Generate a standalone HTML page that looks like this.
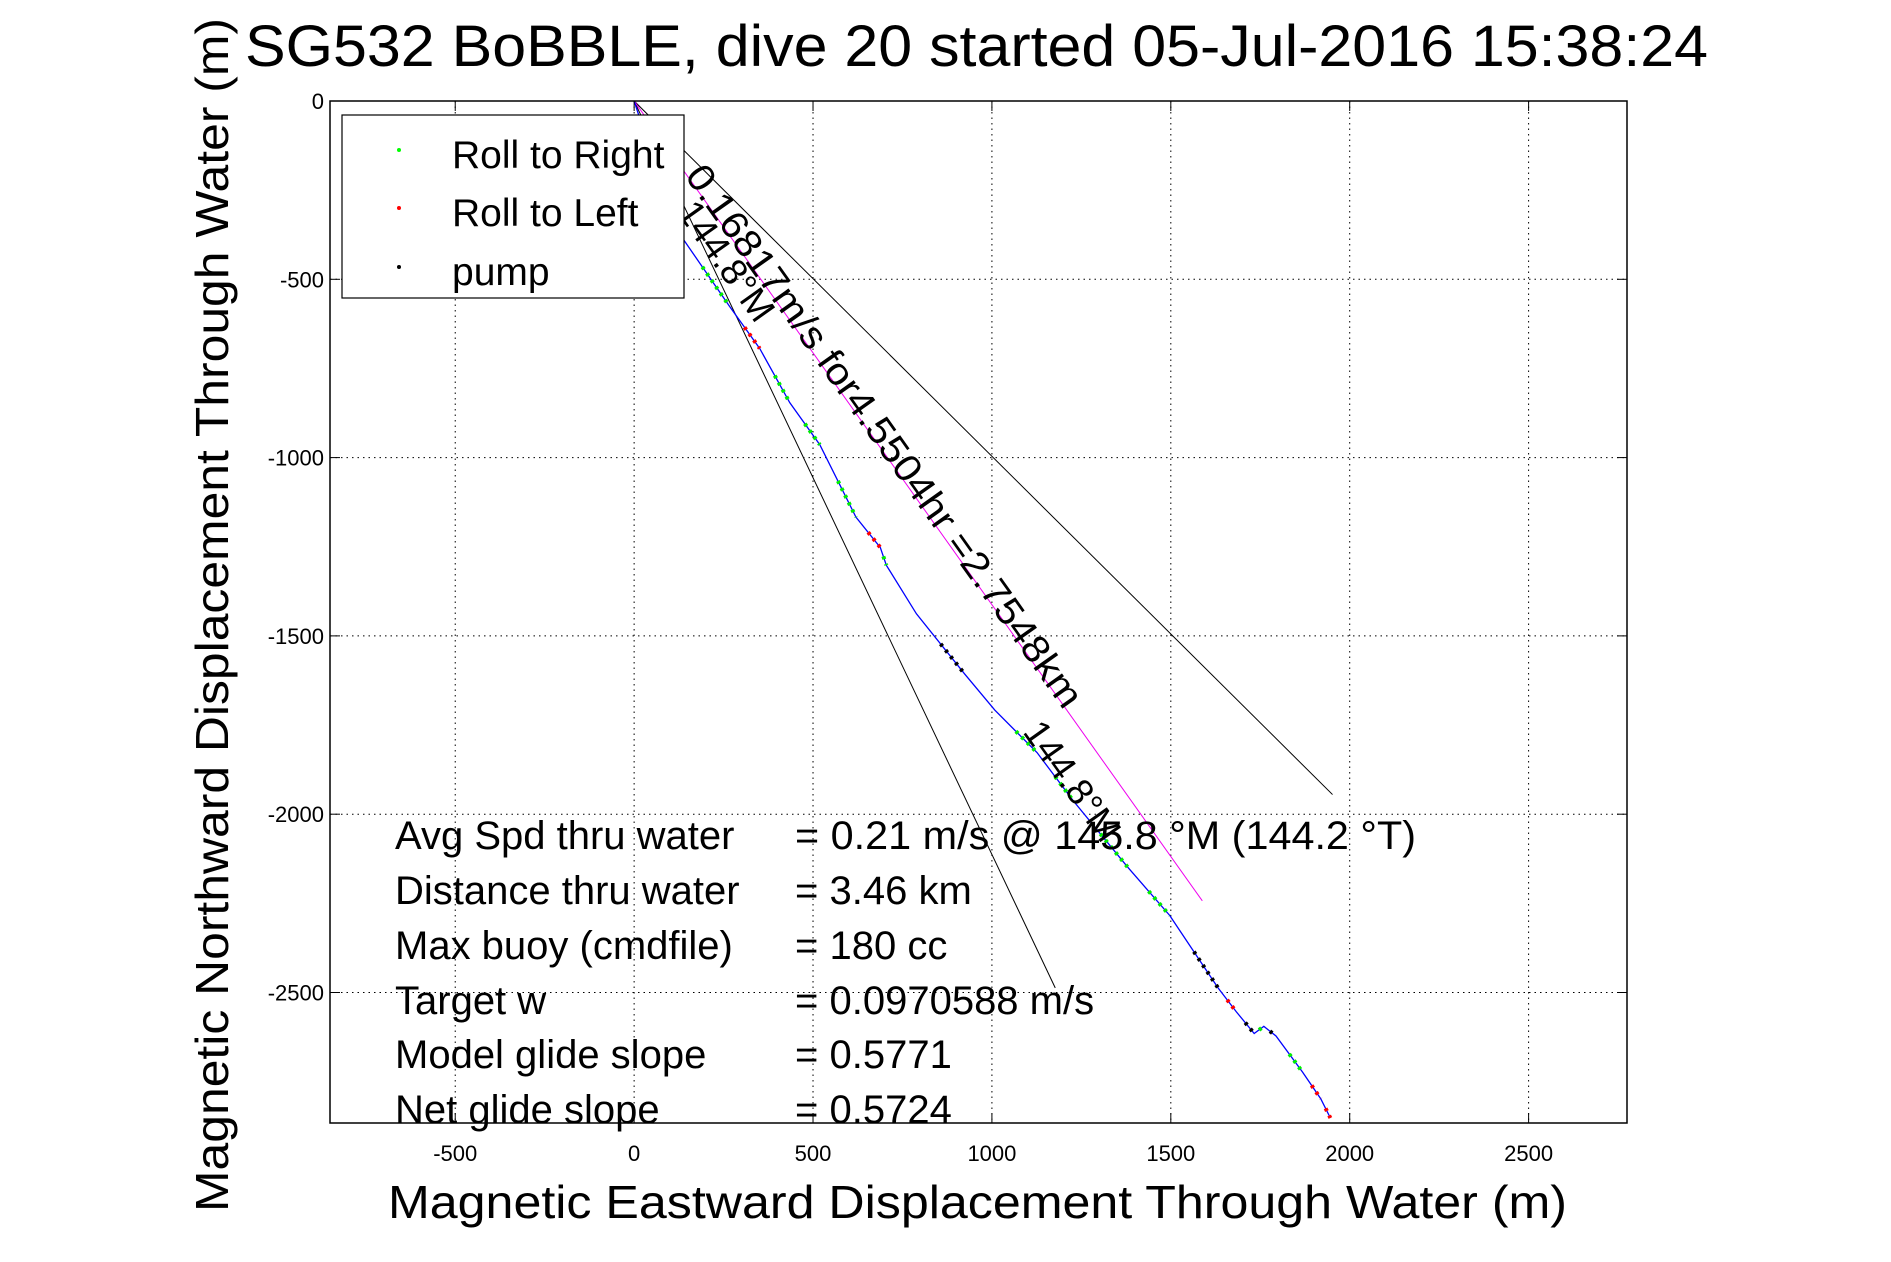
<!DOCTYPE html>
<html><head><meta charset="utf-8"><style>
body{margin:0;background:#fff}
svg{display:block;font-family:"Liberation Sans",sans-serif}
</style></head><body>
<svg id="c" width="1891" height="1262" viewBox="0 0 1891 1262">
<rect width="1891" height="1262" fill="#fff"/>
<g id="grid"></g>
<g id="marks"></g>
<rect x="330" y="101" width="1297" height="1022" fill="none" stroke="#000" stroke-width="1.5"/>
<g id="ticks" font-size="22"></g>
<text x="245" y="66" font-size="58" textLength="1463" lengthAdjust="spacingAndGlyphs">SG532 BoBBLE, dive 20 started 05-Jul-2016 15:38:24</text>
<text transform="translate(228,615) rotate(-90)" font-size="46" text-anchor="middle" textLength="1194" lengthAdjust="spacingAndGlyphs">Magnetic Northward Displacement Through Water (m)</text>
<text x="388" y="1218" font-size="46" textLength="1179" lengthAdjust="spacingAndGlyphs">Magnetic Eastward Displacement Through Water (m)</text>
<g>
<rect x="342" y="115" width="342" height="183" fill="#fff" stroke="#000" stroke-width="1.2"/>
<circle cx="399" cy="150" r="2" fill="#0f0"/><text x="452" y="168" font-size="39">Roll to Right</text>
<circle cx="399" cy="208" r="2" fill="#f00"/><text x="452" y="226" font-size="39">Roll to Left</text>
<circle cx="399" cy="267" r="2" fill="#000"/><text x="452" y="285" font-size="39">pump</text>
</g>
<g font-size="40" xml:space="preserve">
<text x="395" y="849">Avg Spd thru water</text><text x="795" y="849" textLength="621" lengthAdjust="spacingAndGlyphs">=  0.21 m/s @ 145.8 °M (144.2 °T)</text>
<text x="395" y="904">Distance thru water</text><text x="795" y="904">=  3.46 km</text>
<text x="395" y="959">Max buoy (cmdfile)</text><text x="795" y="959">= 180 cc</text>
<text x="395" y="1014">Target w</text><text x="795" y="1014">= 0.0970588 m/s</text>
<text x="395" y="1068">Model glide slope</text><text x="795" y="1068">= 0.5771</text>
<text x="395" y="1123">Net glide slope</text><text x="795" y="1123">= 0.5724</text>
</g>
</svg>
<script>
const xTicks=[-500,0,500,1000,1500,2000,2500];
const yTicks=[0,-500,-1000,-1500,-2000,-2500];
const trackX=[0,115,266,351,435,519,620,688,705,789,924,1008,1126,1227,1379,1497,1632,1683,1733,1760,1794,1868,1919,1946];
const trackY=[0,-355,-575,-694,-846,-964,-1167,-1252,-1302,-1438,-1607,-1708,-1827,-1962,-2148,-2284,-2487,-2554,-2615,-2595,-2622,-2723,-2798,-2852];
const markIdx=[2,3,4,5,6,7,8,10,12,13,14,15,16,17,18,19,20,21,22,23];
const markCls=["g","r","g","g","g","r","g","k","g","g","g","g","k","r","k","g","k","g","r","r"];
const lineEndX=[1952,1177];
const lineEndY=[-1945,-2487];
const magEnd=[1588,-2243];
const X0=-850,X1=2775,Y0=-2866,Y1=0;
const L=330,R=1627,T=101,B=1123;
const sx=v=>L+(v-X0)/(X1-X0)*(R-L);
const sy=v=>T+(Y1-v)/(Y1-Y0)*(B-T);
const NS="http://www.w3.org/2000/svg";
function mk(tag,at,par){const e=document.createElementNS(NS,tag);for(const k in at)e.setAttribute(k,at[k]);document.getElementById(par).appendChild(e);return e;}
xTicks.forEach(t=>{const x=sx(t);
 const g=mk('line',{x1:x,x2:x,y1:T,y2:B,stroke:'#000','stroke-width':1,'stroke-dasharray':'1.5,4'},'grid');
 
 mk('line',{x1:x,x2:x,y1:B,y2:B-10,stroke:'#000'},'ticks');mk('line',{x1:x,x2:x,y1:T,y2:T+10,stroke:'#000'},'ticks');
 const tx=mk('text',{x:x,y:B+38,'text-anchor':'middle'},'ticks');tx.textContent=t;
 });
yTicks.forEach(t=>{const y=sy(t);
 const g=mk('line',{x1:L,x2:R,y1:y,y2:y,stroke:'#000','stroke-width':1,'stroke-dasharray':'1.5,4'},'grid');
 
 mk('line',{x1:L,x2:L+10,y1:y,y2:y,stroke:'#000'},'ticks');mk('line',{x1:R,x2:R-10,y1:y,y2:y,stroke:'#000'},'ticks');
 const tx=mk('text',{x:L-6,y:y+8,'text-anchor':'end'},'ticks');tx.textContent=t;
 });
lineEndX.forEach((ex,i)=>{const l=mk('line',{x1:sx(0),y1:sy(0),x2:sx(ex),y2:sy(lineEndY[i]),stroke:'#000','stroke-width':1},'marks');
 });
const m=mk('line',{x1:sx(0),y1:sy(0),x2:sx(magEnd[0]),y2:sy(magEnd[1]),stroke:'#e0e','stroke-width':1},'marks');

const p=mk('polyline',{points:trackX.map((x,i)=>sx(x)+','+sy(trackY[i])).join(' '),fill:'none',stroke:'#00f','stroke-width':1.3},'marks');

const col={g:'#0e0',r:'#f00',k:'#000'};
markIdx.forEach((j,i)=>{const a=j>0?j-1:j;const xm=(trackX[a]+trackX[j])/2,ym=(trackY[a]+trackY[j])/2;
 const c=mk('line',{x1:sx(xm),y1:sy(ym),x2:sx(trackX[j]),y2:sy(trackY[j]),stroke:col[markCls[i]],'stroke-width':4,'stroke-dasharray':'3,5'},'marks');
 });
const ang=Math.atan2(sy(magEnd[1])-sy(0),sx(magEnd[0])-sx(0))*180/Math.PI;
const t1=mk('text',{transform:`translate(684,176) rotate(${ang})`,'font-size':38,textLength:656,lengthAdjust:'spacingAndGlyphs'},'marks');
t1.textContent='0.16817m/s for4.5504hr =2.7548km';
const t2=mk('text',{transform:`translate(676,212) rotate(${ang})`,'font-size':37},'marks');
t2.textContent='144.8°M';
const t3=mk('text',{transform:`translate(1022,732) rotate(${ang})`,'font-size':37},'marks');
t3.textContent='144.8°M';
</script>
</body></html>
